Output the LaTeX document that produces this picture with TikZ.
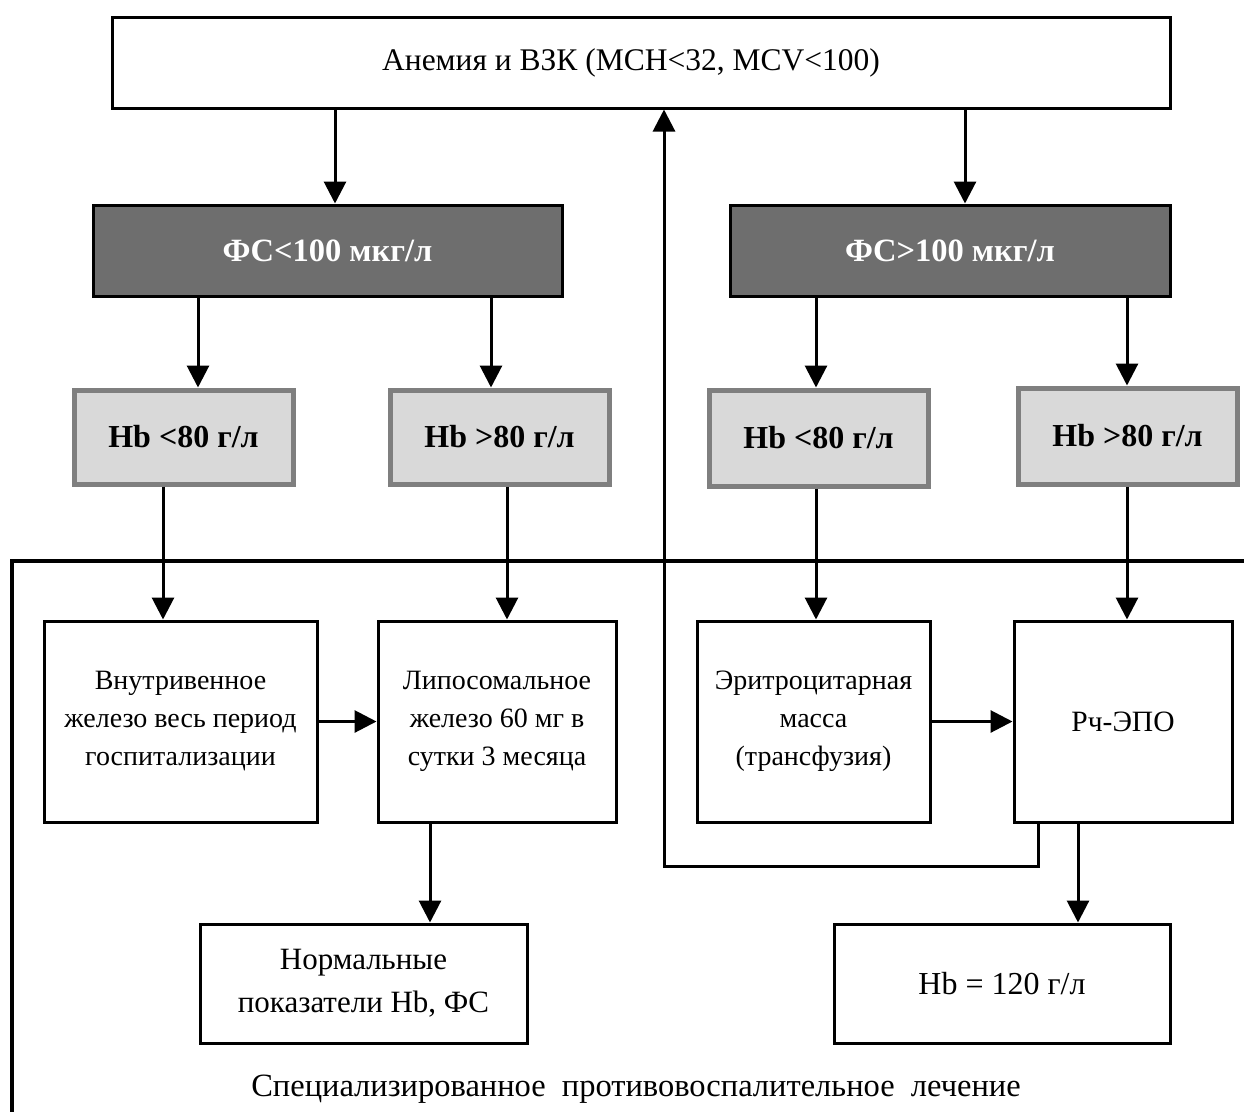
\documentclass[tikz,border=0pt]{standalone}
\usepackage{fontspec}
\setmainfont{Liberation Serif}
\usetikzlibrary{arrows.meta}
\definecolor{darkbox}{HTML}{6E6E6E}
\definecolor{lightbox}{HTML}{D9D9D9}
\definecolor{lightedge}{HTML}{7F7F7F}
\begin{document}
\begin{tikzpicture}[x=1pt,y=-1pt,
  txt/.style={font=\fontsize{28}{38}\selectfont, align=center, inner sep=0pt},
  bigtxt/.style={font=\fontsize{31}{43}\selectfont},
  whitebox/.style={txt, draw=black, line width=3pt, fill=white},
  darkbx/.style={draw=black, line width=3pt, fill=darkbox, text=white, inner sep=0pt, font=\fontsize{32.5}{36}\selectfont\bfseries},
  lightbx/.style={draw=lightedge, line width=5pt, fill=lightbox, inner sep=0pt, font=\fontsize{32}{36}\selectfont\bfseries},
  arr/.style={line width=3pt, -{Triangle[width=22pt,length=22pt]}},
  ln/.style={line width=3.5pt}]
\useasboundingbox (0,0) rectangle (1244,1111);
% boxes
\node[whitebox, font=\fontsize{31.5}{36}\selectfont, minimum width=1058pt, minimum height=91pt] (top) at (641,62.5) {Анемия и ВЗК (MCH<32, MCV<100)\hspace{20pt}};
\node[darkbx, minimum width=469pt, minimum height=91pt] (fs1) at (327.5,250.5) {ФС<100 мкг/л};
\node[darkbx, minimum width=440pt, minimum height=91pt] (fs2) at (950,250.5) {ФС>100 мкг/л};
\node[lightbx, minimum width=219pt, minimum height=94pt] (hb1) at (183.5,437) {Hb <80 г/л};
\node[lightbx, minimum width=219pt, minimum height=94pt] (hb2) at (499.5,437) {Hb >80 г/л};
\node[lightbx, minimum width=219pt, minimum height=96pt] (hb3) at (818.5,438) {Hb <80 г/л};
\node[lightbx, minimum width=219pt, minimum height=96pt] (hb4) at (1127.5,436) {Hb >80 г/л};
\node[whitebox, minimum width=273pt, minimum height=201pt] (iv) at (180.5,721.5) {Внутривенное\\железо весь период\\госпитализации};
\node[whitebox, minimum width=238pt, minimum height=201pt] (lip) at (497,721.5) {Липосомальное\\железо 60 мг в\\сутки 3 месяца};
\node[whitebox, minimum width=233pt, minimum height=201pt] (ery) at (813.5,721.5) {Эритроцитарная\\масса\\(трансфузия)};
\node[whitebox, font=\fontsize{29.5}{38}\selectfont, minimum width=218pt, minimum height=201pt] (epo) at (1123,721.5) {Рч-ЭПО};
\node[whitebox, bigtxt, minimum width=327pt, minimum height=119pt] (norm) at (363.5,983.5) {Нормальные\\показатели Hb, ФС};
\node[whitebox, font=\fontsize{32}{38}\selectfont, minimum width=336pt, minimum height=119pt] (hb120) at (1002,983.5) {Hb = 120 г/л};
\node[txt, font=\fontsize{32.5}{36}\selectfont] (spec) at (636,1089) {Специализированное\hspace{8pt} противовоспалительное\hspace{8pt} лечение};
% frame line
\coordinate (fl) at (12,1111);
\coordinate (fc) at (12,561);
\coordinate (fr) at (1244,561);
\draw[ln, line cap=rect] (fl) -- (fc) -- (fr);
% arrows
\draw[arr] (top.south -| 335,0) -- (fs1.north -| 335,0);
\draw[arr] (top.south -| 965,0) -- (fs2.north -| 965,0);
\draw[arr] (fs1.south -| 198,0) -- (hb1.north -| 198,0);
\draw[arr] (fs1.south -| 491,0) -- (hb2.north -| 491,0);
\draw[arr] (fs2.south -| 816,0) -- (hb3.north -| 816,0);
\draw[arr] (fs2.south -| 1127,0) -- (hb4.north -| 1127,0);
\draw[arr] (hb1.south -| 163,0) -- (iv.north -| 163,0);
\draw[arr] (hb2.south -| 507,0) -- (lip.north -| 507,0);
\draw[arr] (hb3.south -| 816,0) -- (ery.north -| 816,0);
\draw[arr] (hb4.south -| 1127,0) -- (epo.north -| 1127,0);
\draw[arr] (iv.east) -- (lip.west);
\draw[arr] (ery.east) -- (epo.west);
\draw[arr] (lip.south -| 430,0) -- (norm.north -| 430,0);
\draw[arr] (epo.south -| 1078,0) -- (hb120.north -| 1078,0);
% feedback
\draw[arr] (epo.south -| 1038,0) -- (1038,866) -- (664,866) -- (top.south -| 664,0);
\end{tikzpicture}
\end{document}
